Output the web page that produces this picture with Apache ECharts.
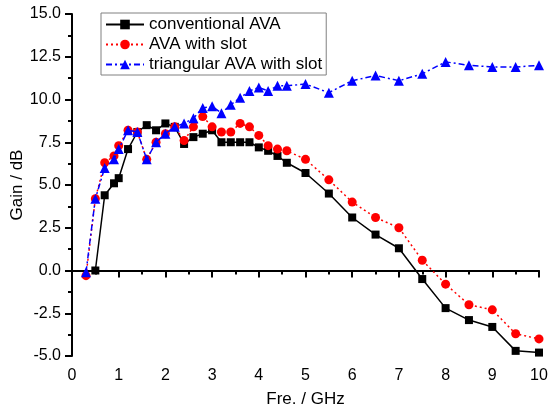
<!DOCTYPE html>
<html>
<head>
<meta charset="utf-8">
<script src="https://cdn.jsdelivr.net/npm/echarts@6/dist/echarts.min.js"></script>
<style>
  html, body { margin: 0; padding: 0; background: #fff; }
  #main { width: 551px; height: 410px; }
</style>
</head>
<body>
<div id="main"></div>
<script>
// frequency points (GHz)
var freqConv = [0.5, 0.7, 0.9, 1.0, 1.2, 1.4, 1.6, 1.8, 2.0, 2.2, 2.4, 2.6, 2.8, 3.0, 3.2, 3.4, 3.6, 3.8, 4.0, 4.2, 4.4, 4.6, 5.0, 5.5, 6.0, 6.5, 7.0, 7.5, 8.0, 8.5, 9.0, 9.5, 10];
var freqSlot = [0.3, 0.5, 0.7, 0.9, 1.0, 1.2, 1.4, 1.6, 1.8, 2.0, 2.2, 2.4, 2.6, 2.8, 3.0, 3.2, 3.4, 3.6, 3.8, 4.0, 4.2, 4.4, 4.6, 5.0, 5.5, 6.0, 6.5, 7.0, 7.5, 8.0, 8.5, 9.0, 9.5, 10];

// gain (dB)
var gainConv = [0.0, 4.4, 5.1, 5.4, 7.1, 8.1, 8.5, 8.2, 8.6, 8.4, 7.4, 7.8, 8.0, 8.2, 7.5, 7.5, 7.5, 7.5, 7.2, 7.0, 6.7, 6.3, 5.7, 4.5, 3.1, 2.1, 1.3, -0.5, -2.2, -2.9, -3.3, -4.7, -4.8];
var gainSlot = [-0.3, 4.2, 6.3, 6.7, 7.3, 8.2, 8.1, 6.5, 7.5, 8.0, 8.4, 7.6, 8.4, 9.0, 8.4, 8.1, 8.1, 8.6, 8.4, 7.9, 7.3, 7.1, 7.0, 6.5, 5.3, 4.0, 3.1, 2.5, 0.6, -0.8, -2.0, -2.3, -3.7, -4.0];
var gainTri = [-0.1, 4.2, 6.0, 6.5, 7.1, 8.2, 8.1, 6.5, 7.5, 8.0, 8.4, 8.6, 8.9, 9.5, 9.6, 9.2, 9.7, 10.1, 10.5, 10.7, 10.5, 10.8, 10.8, 10.9, 10.4, 11.1, 11.4, 11.1, 11.5, 12.2, 12.0, 11.9, 11.9, 12.0];

var seriesNames = ['conventional AVA', 'AVA with slot', 'triangular AVA with slot'];

function pairs(xs, ys) {
  return xs.map(function (x, i) { return [x, ys[i]]; });
}

var font = 'Liberation Sans, Arial, sans-serif';

var chart = echarts.init(document.getElementById('main'), null, { renderer: 'canvas' });

var option = {
  animation: false,
  backgroundColor: '#fff',
  grid: {
    left: 72,
    right: 12,
    top: 14,
    bottom: 54,
    containLabel: false,
    outerBoundsMode: 'none'
  },
  legend: {
    orient: 'vertical',
    left: 101,
    top: 13,
    padding: [3, 4, 2, 4],
    itemWidth: 38,
    itemHeight: 12,
    itemGap: 3,
    selectedMode: false,
    borderColor: '#808080',
    borderWidth: 1,
    backgroundColor: '#fff',
    textStyle: { fontFamily: font, fontSize: 17, color: '#000' },
    data: seriesNames
  },
  xAxis: {
    type: 'value',
    min: 0,
    max: 10,
    interval: 1,
    name: 'Fre. / GHz',
    nameLocation: 'middle',
    nameGap: 35,
    nameMoveOverlap: false,
    nameTextStyle: { fontFamily: font, fontSize: 17, color: '#000' },
    axisLine: { lineStyle: { color: '#000', width: 2 } },
    axisTick: { length: 7, lineStyle: { color: '#000', width: 2 } },
    minorTick: { show: true, splitNumber: 2, length: 4, lineStyle: { color: '#000', width: 2 } },
    axisLabel: { margin: 12, fontFamily: font, fontSize: 16, color: '#000' },
    splitLine: { show: false }
  },
  yAxis: {
    type: 'value',
    min: -5,
    max: 15,
    interval: 2.5,
    name: 'Gain / dB',
    nameLocation: 'middle',
    nameGap: 46,
    nameMoveOverlap: false,
    nameTextStyle: { fontFamily: font, fontSize: 17, color: '#000' },
    axisLine: { show: true, lineStyle: { color: '#000', width: 2 } },
    axisTick: { show: true, length: 7, lineStyle: { color: '#000', width: 2 } },
    minorTick: { show: true, splitNumber: 2, length: 4, lineStyle: { color: '#000', width: 2 } },
    axisLabel: {
      margin: 11,
      fontFamily: font,
      fontSize: 16,
      color: '#000',
      formatter: function (v) { return v.toFixed(1); }
    },
    splitLine: { show: false }
  },
  series: [
    {
      name: seriesNames[0],
      type: 'line',
      data: pairs(freqConv, gainConv),
      symbol: 'rect',
      symbolSize: 8,
      itemStyle: { color: '#000' },
      lineStyle: { color: '#000', width: 1.5, type: 'solid' },
      z: 3
    },
    {
      name: seriesNames[1],
      type: 'line',
      data: pairs(freqSlot, gainSlot),
      symbol: 'circle',
      symbolSize: 9,
      itemStyle: { color: '#ff0000' },
      lineStyle: { color: '#ff0000', width: 1.5, type: [2, 3] },
      z: 4
    },
    {
      name: seriesNames[2],
      type: 'line',
      data: pairs(freqSlot, gainTri),
      symbol: 'triangle',
      symbolSize: 10,
      itemStyle: { color: '#0000ff' },
      lineStyle: { color: '#0000ff', width: 1.5, type: [6, 3, 2, 3] },
      z: 5
    }
  ]
};

chart.setOption(option);
</script>
</body>
</html>
